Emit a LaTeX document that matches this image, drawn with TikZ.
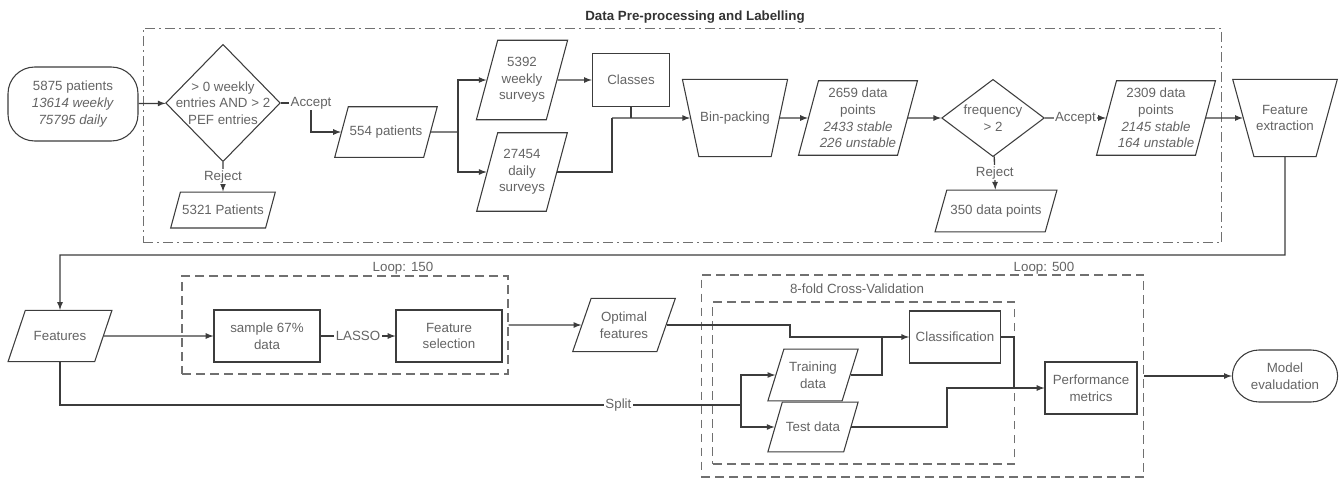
\documentclass[tikz,border=0pt]{standalone}
\usepackage{fontspec}
\setmainfont{Liberation Sans}
\usetikzlibrary{shapes.geometric}
\definecolor{txtgray}{HTML}{646464}
\definecolor{linegray}{HTML}{3C3C3C}
\definecolor{boxgray}{HTML}{707070}

\begin{document}
\begin{tikzpicture}[x=0.75pt, y=-0.75pt, color=linegray, text=txtgray, font=\fontsize{10}{12.5}\selectfont]
    \tikzstyle{marr}=[line width=1pt,-latex]
    \tikzstyle{link}=[line width=1pt]
    \tikzstyle{para}=[draw, line width=0.8pt, trapezium, trapezium left angle=75, trapezium right angle=105, trapezium stretches=true, inner xsep=1pt, align=center]
    \tikzstyle{trap}=[draw, line width=0.8pt, trapezium, shape border rotate=180, trapezium left angle=78, trapezium right angle=78, trapezium stretches=true, inner xsep=1pt, align=center]
    \tikzstyle{procb}=[draw, line width=0.8pt, rectangle, align=center]
    \tikzstyle{term}=[draw, line width=0.8pt, rounded corners=20pt, align=center]
    \tikzstyle{decis}=[draw, line width=0.8pt, diamond, inner sep=0pt]
    \tikzstyle{lbl}=[fill=white, inner sep=1pt]
    \tikzstyle{grpbox}=[draw=boxgray, line width=0.9pt, dash pattern=on 6.5pt off 4pt]
    \tikzstyle{grplbl}=[inner sep=1pt]

    \useasboundingbox (0,0) rectangle (1339,479);

    % frames
    \node[grpbox, dash pattern=on 7.5pt off 3pt on 1.5pt off 3pt, minimum width=809pt, minimum height=161pt] (prep) at (682.5,135.5) {};
    \node[font=\fontsize{10}{12}\selectfont\bfseries, text=black!80] (prepttl) at (695,17) {Data Pre-processing and Labelling};
    \node[grpbox, minimum width=244.5pt, minimum height=73.5pt] (loopA) at (345,325) {};
    \node[grplbl] (loopAttl) at (403,268) {Loop: 150};
    \node[grpbox, minimum width=332pt, minimum height=151.5pt] (loopB) at (922.5,376) {};
    \node[grplbl] (loopBttl) at (1044,268) {Loop: 500};
    \node[grpbox, minimum width=226pt, minimum height=121.5pt] (cv) at (863.5,383) {};
    \node[grplbl] (cvttl) at (857,289) {8-fold Cross-Validation};

    % pre-processing
    \node[term, minimum width=97.5pt, minimum height=55.5pt] (pop) at (73,104) {5875 patients\\\textit{13614 weekly}\\\textit{75795 daily}};
    \node[decis, minimum width=86pt, minimum height=88pt, label={[align=center]center:{> 0 weekly\\entries AND > 2\\PEF entries}}] (incl) at (223,103) {};
    \node[para, minimum width=77pt, inner ysep=14.3pt] (pkept) at (386,132) {554 patients};
    \node[para, minimum width=79pt, inner ysep=9.8pt] (pdrop) at (223,210) {5321 Patients};
    \node[para, minimum width=67.5pt, inner ysep=12.8pt] (wsurv) at (522,80) {5392\\weekly\\surveys};
    \node[para, minimum width=67.5pt, inner ysep=12.4pt] (dsurv) at (522,172) {27454\\daily\\surveys};
    \node[procb, minimum width=58pt, minimum height=40pt] (classes) at (631,80) {Classes};
    \node[trap, minimum width=78pt, inner ysep=24.3pt] (binpack) at (735,118) {Bin-packing};
    \node[para, minimum width=87pt, inner ysep=5.5pt] (dpall) at (858,118) {2659 data\\points\\\textit{2433 stable}\\\textit{226 unstable}};
    \node[decis, minimum width=77pt, minimum height=58pt, label={[align=center]center:{frequency\\> 2}}] (freq) at (993,118) {};
    \node[para, minimum width=87pt, inner ysep=5.5pt] (dpkept) at (1156,118) {2309 data\\points\\\textit{2145 stable}\\\textit{164 unstable}};
    \node[para, minimum width=92pt, inner ysep=11pt] (dpdrop) at (996,211) {350 data points};
    \node[trap, minimum width=79pt, inner ysep=19.2pt, trapezium left angle=75, trapezium right angle=75] (fextr) at (1285,118) {Feature\\extraction};

    % modelling
    \node[para, minimum width=78pt, inner ysep=15.7pt] (feats) at (60,336) {Features};
    \node[procb, minimum width=79.5pt, minimum height=39pt] (sample) at (267,336) {sample 67\%\\data};
    \node[procb, minimum width=79.5pt, minimum height=39pt] (fsel) at (449,336) {Feature\\selection};
    \node[para, minimum width=77pt, inner ysep=10pt] (optf) at (624,325) {Optimal\\features};
    \node[procb, minimum width=68pt, minimum height=39pt] (clsf) at (955,337) {Classification};
    \node[para, minimum width=68pt, inner ysep=9.5pt] (train) at (813,375) {Training\\data};
    \node[para, minimum width=68pt, inner ysep=15pt] (test) at (813,427) {Test data};
    \node[procb, minimum width=69pt, minimum height=39pt] (perf) at (1091,388) {Performance\\metrics};
    \node[term, minimum width=79pt, minimum height=39pt] (meval) at (1285,376) {Model\\evaludation};

    \coordinate (accA) at (311,103);
    \coordinate (fork1) at (458,132);
    \coordinate (merge1) at (612,118);
    \coordinate (fbend) at (60,255);
    \coordinate (obend) at (790,337);
    \coordinate (tjoin) at (882,337);
    \coordinate (fork2) at (741,405);
    \coordinate (tbend) at (947,388);
    \coordinate (cjoin) at (1014,388);

    \draw[marr] (pop) -- (incl);
    \draw[marr] (incl) -- (accA) node[lbl] (acc1) {Accept} |- (pkept);
    \draw[marr] (incl) -- node[lbl] (rej1) {Reject} (pdrop);
    \draw[link] (pkept) -- (fork1);
    \draw[marr] (fork1) |- (wsurv);
    \draw[marr] (fork1) |- (dsurv);
    \draw[marr] (wsurv) -- (classes);
    \draw[link] (dsurv) -| (merge1);
    \draw[link] (classes) -- (classes |- merge1);
    \draw[marr] (merge1) -- (binpack);
    \draw[marr] (binpack) -- (dpall);
    \draw[marr] (dpall) -- (freq);
    \draw[marr] (freq) -- node[lbl] (acc2) {Accept} (dpkept);
    \draw[marr] (freq) -- node[lbl] (rej2) {Reject} (dpdrop);
    \draw[marr] (dpkept) -- (fextr);
    \draw[marr] (fextr) |- (fbend) -- (feats);

    \draw[marr] (feats) -- (sample);
    \draw[marr] (sample) -- node[lbl] (lasso) {LASSO} (fsel);
    \draw[marr] (loopA) -- (optf);
    \draw[marr] (optf) -| (obend) -- (clsf);
    \draw[link] (train) -| (tjoin);
    \draw[link] (feats) |- node[lbl, pos=0.91] (splt) {Split} (fork2);
    \draw[marr] (fork2) |- (train);
    \draw[marr] (fork2) |- (test);
    \draw[marr] (test) -| (tbend) -- (perf);
    \draw[link] (clsf) -| (cjoin);
    \draw[marr] (loopB) -- (meval);

\end{tikzpicture}
\end{document}
